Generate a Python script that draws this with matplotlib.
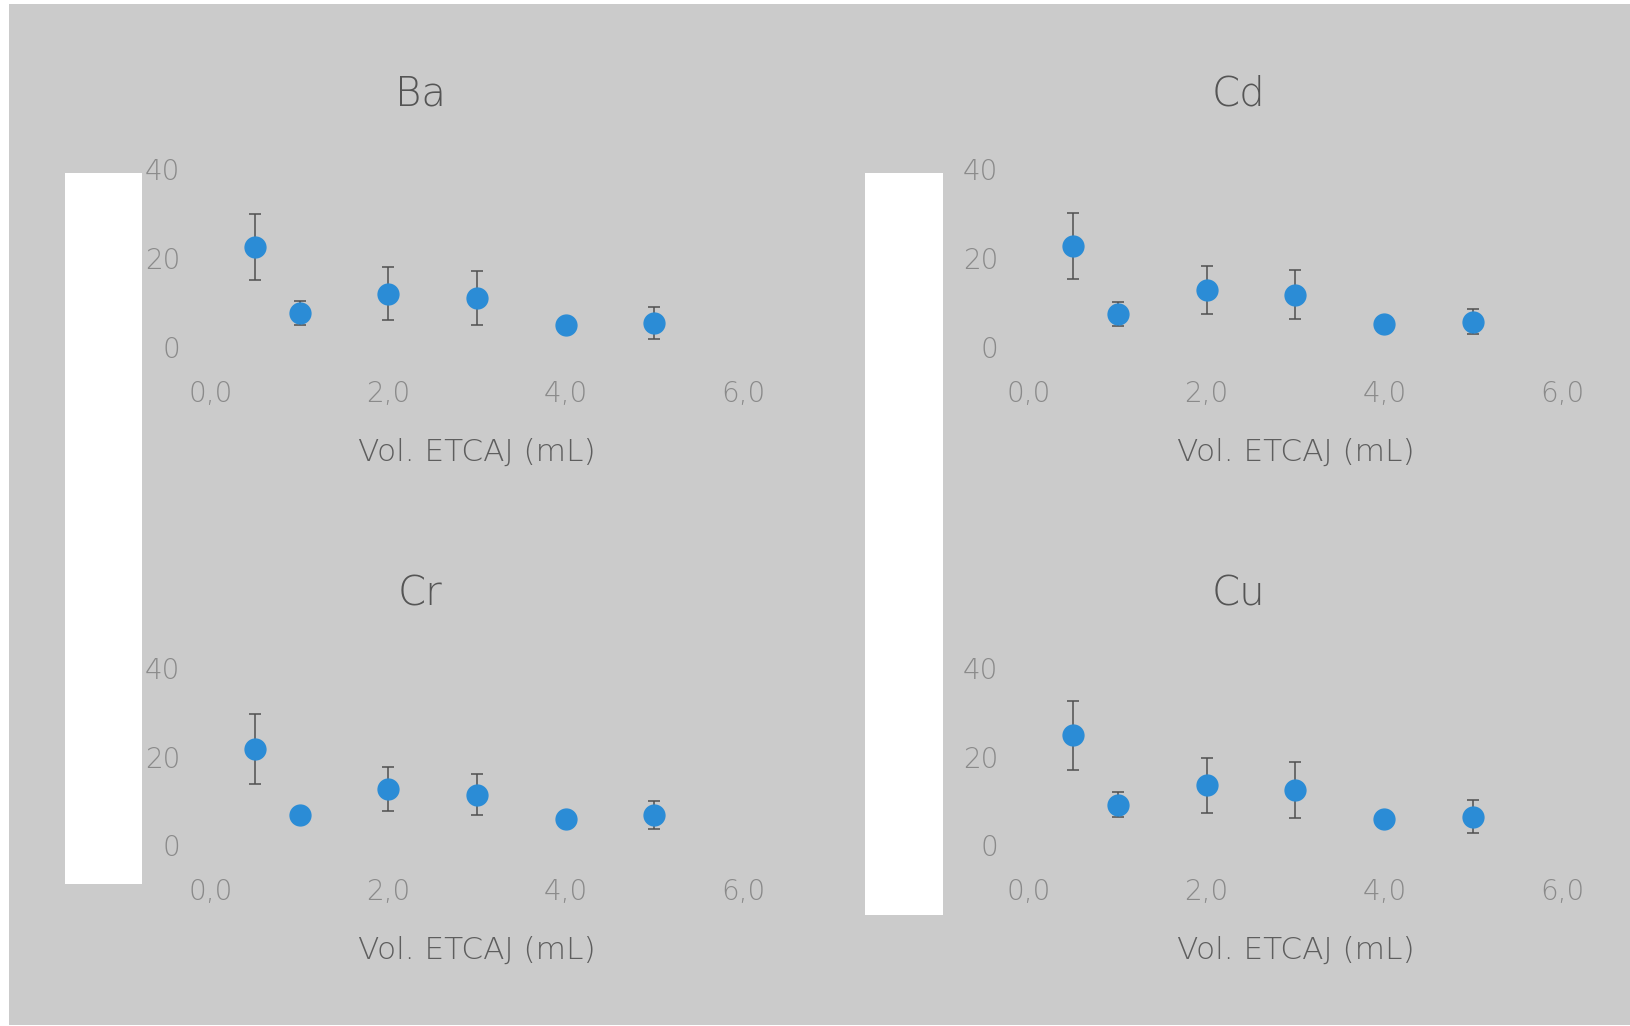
#!/bin/env python3
# ETCAJ volume series: Ba, Cd, Cr, Cu
# %%
import matplotlib as mpl
from matplotlib import pyplot as plt
from matplotlib.patches import Rectangle
import numpy as np

# %%
volume = [0.5, 1.0, 2.0, 3.0, 4.0, 5.0]

baMean = [22.5, 7.6, 12.0, 11.0, 4.9, 5.5]
baErr = [7.5, 2.7, 6.0, 6.0, 1.0, 3.6]

cdMean = [22.7, 7.4, 12.9, 11.7, 5.2, 5.7]
cdErr = [7.4, 2.7, 5.4, 5.5, 1.0, 2.8]

crMean = [21.7, 6.8, 12.7, 11.4, 5.9, 6.8]
crErr = [8.0, 1.0, 5.0, 4.6, 1.0, 3.2]

cuMean = [24.8, 9.1, 13.5, 12.5, 5.9, 6.4]
cuErr = [7.8, 2.8, 6.2, 6.3, 1.0, 3.7]

panelTitles = ['Ba', 'Cd', 'Cr', 'Cu']
xTicks = [0, 2, 4, 6]
xTickLabels = ['0,0', '2,0', '4,0', '6,0']
yTicks = [0, 20, 40]
yTickLabels = ['0', '20', '40']
xLabel = 'Vol. ETCAJ (mL)'

# %%
W, H = 1631, 1026
plt.rcParams['font.family'] = ['DejaVu Sans']

fig = plt.figure(figsize=(W / 100, H / 100), dpi=100)
fig.patch.set_facecolor('white')

def pxRect(x0, y0, x1, y1):
    # pixel box (origin top-left) -> figure fraction [l, b, w, h]
    return [x0 / W, 1 - y1 / H, (x1 - x0) / W, (y1 - y0) / H]

# grey chart area
l, b, w, h = pxRect(9, 4, 1631, 1025)
fig.patches.append(Rectangle((l, b), w, h, transform=fig.transFigure,
                             facecolor='#cbcbcb', edgecolor='none', zorder=-2))
# blanked-out axis title strips
for box in [(65, 173, 142, 884), (865, 173, 943, 915)]:
    l, b, w, h = pxRect(*box)
    fig.patches.append(Rectangle((l, b), w, h, transform=fig.transFigure,
                                 facecolor='white', edgecolor='none', zorder=-1))

# %%
axBoxes = [pxRect(211, 169, 743, 347), pxRect(1029, 169, 1562, 347),
           pxRect(211, 668, 743, 845), pxRect(1029, 668, 1562, 845)]
series = [(baMean, baErr), (cdMean, cdErr), (crMean, crErr), (cuMean, cuErr)]

for box, title, (mean, err) in zip(axBoxes, panelTitles, series):
    ax = fig.add_axes(box)
    ax.set_facecolor('none')
    for s in ax.spines.values():
        s.set_visible(False)

    ax.errorbar(volume, mean, yerr=err, fmt='o', color='#2b8cd6',
                markersize=15, markeredgecolor='#2b8cd6',
                ecolor='#505050', elinewidth=1.1, capsize=4, capthick=1.1,
                clip_on=False, zorder=3)

    ax.set_xlim(0, 6)
    ax.set_ylim(0, 40)
    ax.set_xticks(xTicks)
    ax.set_xticklabels(xTickLabels)
    ax.set_yticks(yTicks)
    ax.set_yticklabels(yTickLabels)
    ax.tick_params(axis='both', length=0, labelsize=20, labelcolor='#8a8a8a')
    ax.tick_params(axis='y', pad=22)
    ax.tick_params(axis='x', pad=24)
    for lbl in ax.get_xticklabels() + ax.get_yticklabels():
        lbl.set_fontweight('light')

    ax.set_xlabel(xLabel, fontsize=22.5, color='#5e5e5e', labelpad=21,
                  fontweight='light')
    ax.text(0.393, 1.42, title, transform=ax.transAxes, ha='center', va='center',
            fontsize=29, color='#555555', fontweight='light')

plt.savefig('out.png', dpi=100)
